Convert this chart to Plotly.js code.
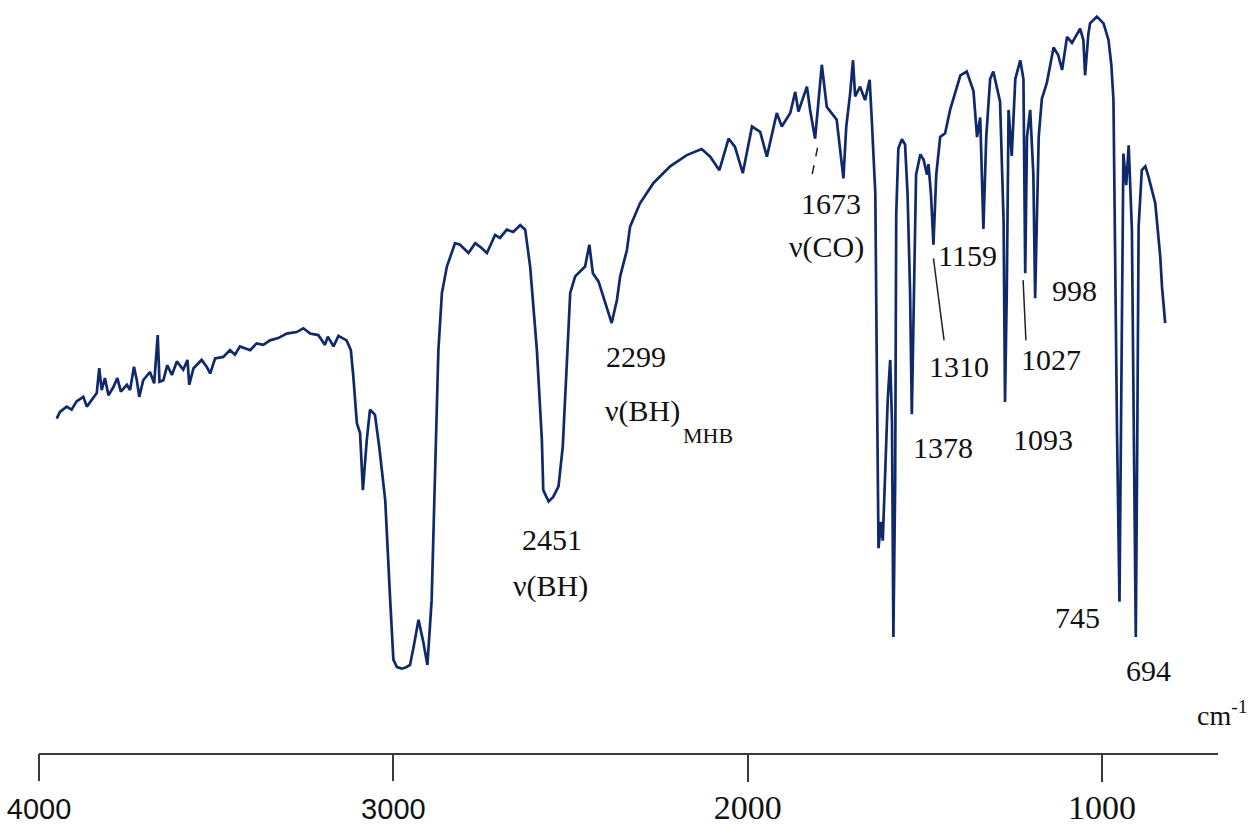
<!DOCTYPE html>
<html>
<head>
<meta charset="utf-8">
<script src="https://cdn.plot.ly/plotly-3.0.1.min.js"></script>
<style>
  html, body { margin: 0; padding: 0; background: #ffffff; }
  #chart { width: 1256px; height: 830px; }
</style>
</head>
<body>
<div id="chart"></div>
<script>
// IR spectrum: wavenumber (cm-1) and transmittance (arbitrary %)
const wavenumber = [
  3950,3941,3922,3908,3894,3875,3865,3851,3837,3830,
  3823,3814,3804,3790,3779,3769,3752,3743,3732,3724,
  3717,3706,3687,3675,3665,3660,3649,3638,3625,3611,
  3593,3581,3576,3564,3541,3527,3517,3503,3480,3461,
  3447,3433,3404,3386,3367,3348,3325,3301,3273,3254,
  3235,3212,3193,3185,3169,3155,3132,3120,3113,3103,
  3094,3086,3075,3066,3052,3040,3023,
  3009,3000,2990,2976,2964,2953,2942,2929,2915,2904,
  2892,2882,2873,2863,2849,2826,2812,2788,2769,2752,
  2736,2713,2699,2680,2662,2642,2628,2614,2595,2581,
  2577,2562,2549,2534,2522,2511,2501,2487,2459,2447,
  2437,2421,2398,2384,2369,2360,2341,2332,2304,2266,
  2219,2172,2130,2106,2080,2054,2036,2014,1988,1965,
  1946,1918,1904,1880,1866,1857,1833,1824,1810,1791,
  1777,1749,1730,1722,1711,1703,1697,1683,1669,1656,
  1650,1640,1635,1631,1624,1619,1612,1605,1598,1593,
  1589,1584,1581,1575,1565,1556,1549,1542,1537,1530,
  1525,1513,1504,1494,1490,1483,1476,1468,1457,1443,
  1429,1400,1382,1363,1353,1344,1335,1327,1316,1307,
  1288,1278,1274,1269,1264,1255,1245,1231,1222,1217,
  1212,1203,1194,1189,1179,1170,1156,1137,1124,1113,
  1099,1085,1062,1053,1048,1039,1034,1015,996,982,
  974,968,963,958,951,946,940,932,925,916,
  909,905,901,897,888,878,869,850,836,831,822
];
const transmittance = [
  44.4,45.3,46.0,45.6,46.7,47.3,46.0,46.9,47.8,51.1,
  48.2,49.8,47.5,48.6,49.8,48.0,48.9,48.2,51.3,49.5,
  47.3,49.5,50.6,49.1,55.5,49.3,49.5,51.5,50.2,52.0,
  50.9,52.2,48.9,51.1,52.2,51.3,50.4,52.4,52.6,53.5,
  52.9,54.0,53.5,54.4,54.2,54.8,55.1,55.7,55.9,56.4,
  55.7,55.5,54.2,55.3,54.0,55.4,54.8,53.5,50.0,43.8,
  42.5,34.9,41.6,45.6,44.9,40.7,33.6,
  20.3,12.4,11.4,11.2,11.4,11.7,14.3,17.7,14.6,11.7,
  20.3,38.0,53.5,61.1,64.6,67.7,67.5,66.4,67.7,67.1,
  66.4,68.8,68.4,69.5,69.2,70.1,69.5,64.6,53.5,41.6,
  34.9,33.4,34.0,35.4,40.7,51.3,61.1,63.3,64.6,67.5,
  63.7,62.6,59.3,57.1,60.2,63.3,66.8,69.9,73.0,75.7,
  77.9,79.4,80.2,79.2,77.4,81.6,80.5,77.0,83.2,82.5,
  79.2,85.0,83.2,85.0,87.8,85.2,88.5,85.4,81.6,91.4,
  85.8,84.1,76.3,83.2,87.6,92.0,87.2,88.5,86.7,89.4,
  84.1,74.3,47.1,27.2,30.7,28.2,37.4,46.9,52.2,44.0,
  15.4,35.9,71.6,80.3,81.5,80.8,74.2,61.4,45.0,61.4,
  76.8,79.5,78.8,76.8,78.2,74.2,67.5,76.8,81.8,82.3,
  85.4,90.0,90.5,87.9,81.8,84.4,69.6,81.8,89.5,90.5,
  86.5,70.6,46.6,61.4,85.4,79.3,89.5,92.0,89.5,63.7,
  81.8,85.4,76.8,60.4,81.8,86.9,89.0,93.7,92.7,90.7,
  95.1,94.3,96.2,94.7,90.0,95.4,96.9,97.8,96.9,94.7,
  91.4,86.7,60.6,42.9,20.1,44.2,79.6,75.4,80.7,69.5,
  40.2,15.4,40.2,69.9,77.4,77.9,76.5,73.0,65.9,61.9,57.1
];

// Tick labels: the first two are drawn in a sans face, the last two in a serif face in the original
const sansTickValues = [4000, 3000];
const sansTickLabels = ['4000', '3000'];
const serifTickValues = [2000, 1000];
const serifTickLabels = ['2000', '1000'];

const serif = 'Liberation Serif';
const sans = 'Liberation Sans';
const lineColor = '#10296b';
const axisColor = '#3a3a3a';
const xRange = [4000, 673];

const trace = {
  x: wavenumber,
  y: transmittance,
  type: 'scatter',
  mode: 'lines',
  line: { color: lineColor, width: 2.7 },
  hoverinfo: 'skip'
};

function lbl(text, x, y, size) {
  return {
    text: text, x: x, y: y, xref: 'x', yref: 'y',
    showarrow: false, xanchor: 'center', yanchor: 'middle',
    font: { family: serif, size: size || 30, color: '#111111' }
  };
}

const annotations = [
  lbl('2451', 2551, 28.4),
  lbl('\u03BD(BH)', 2558, 22.2),
  lbl('2299', 2315, 52.7),
  lbl('\u03BD(BH)', 2298, 45.4),
  lbl('MHB', 2112, 42.1, 22),
  lbl('1673', 1765, 73.0),
  lbl('\u03BD(CO)', 1779, 67.2),
  lbl('1159', 1381, 66.1),
  lbl('1310', 1403, 51.3),
  lbl('1027', 1144, 52.3),
  lbl('998', 1079, 61.4),
  lbl('1378', 1448, 40.6),
  lbl('1093', 1166, 41.6),
  lbl('745', 1070, 18.0),
  lbl('694', 870, 11.0),
  {
    text: 'cm<sup>-1</sup>', xref: 'paper', yref: 'paper',
    x: 1.0, y: 0.0, xanchor: 'right', yanchor: 'bottom', yshift: 20, xshift: 32,
    showarrow: false, font: { family: serif, size: 28, color: '#111111' }
  }
];

const shapes = [
  { type: 'line', xref: 'x', yref: 'y', x0: 1803, y0: 80.4, x1: 1821, y1: 76.2,
    line: { color: '#222222', width: 1.5, dash: 'dash' } },
  { type: 'line', xref: 'x', yref: 'y', x0: 1476, y0: 65.7, x1: 1446, y1: 54.8,
    line: { color: '#222222', width: 1.5 } },
  { type: 'line', xref: 'x', yref: 'y', x0: 1223, y0: 62.8, x1: 1215, y1: 54.8,
    line: { color: '#222222', width: 1.5 } }
];

const baseAxis = {
  range: xRange,
  autorange: false,
  showgrid: false,
  zeroline: false,
  ticks: 'outside',
  ticklen: 27,
  tickwidth: 2,
  tickcolor: axisColor,
  tickmode: 'array',
  fixedrange: true
};

const layout = {
  width: 1256,
  height: 830,
  margin: { l: 39, r: 38, t: 0, b: 77, pad: 0 },
  paper_bgcolor: '#ffffff',
  plot_bgcolor: '#ffffff',
  showlegend: false,
  xaxis: Object.assign({}, baseAxis, {
    showline: true,
    linecolor: axisColor,
    linewidth: 2,
    tickvals: serifTickValues,
    ticktext: serifTickLabels,
    tickfont: { family: serif, size: 34, color: '#111111' },
    ticklabelstandoff: -4
  }),
  xaxis2: Object.assign({}, baseAxis, {
    overlaying: 'x',
    side: 'bottom',
    anchor: 'y',
    showline: false,
    tickvals: sansTickValues,
    ticktext: sansTickLabels,
    tickfont: { family: sans, size: 29, color: '#111111' },
    ticklabelstandoff: 3
  }),
  yaxis: {
    range: [0, 100],
    autorange: false,
    visible: false,
    fixedrange: true
  },
  annotations: annotations,
  shapes: shapes
};

// invisible helper trace so the second x axis (sans tick labels) is drawn
const axisHelper = {
  x: [4000, 673], y: [null, null], xaxis: 'x2', yaxis: 'y',
  type: 'scatter', mode: 'lines', hoverinfo: 'skip', showlegend: false
};

Plotly.newPlot('chart', [trace, axisHelper], layout, { displayModeBar: false, staticPlot: true });
</script>
</body>
</html>
